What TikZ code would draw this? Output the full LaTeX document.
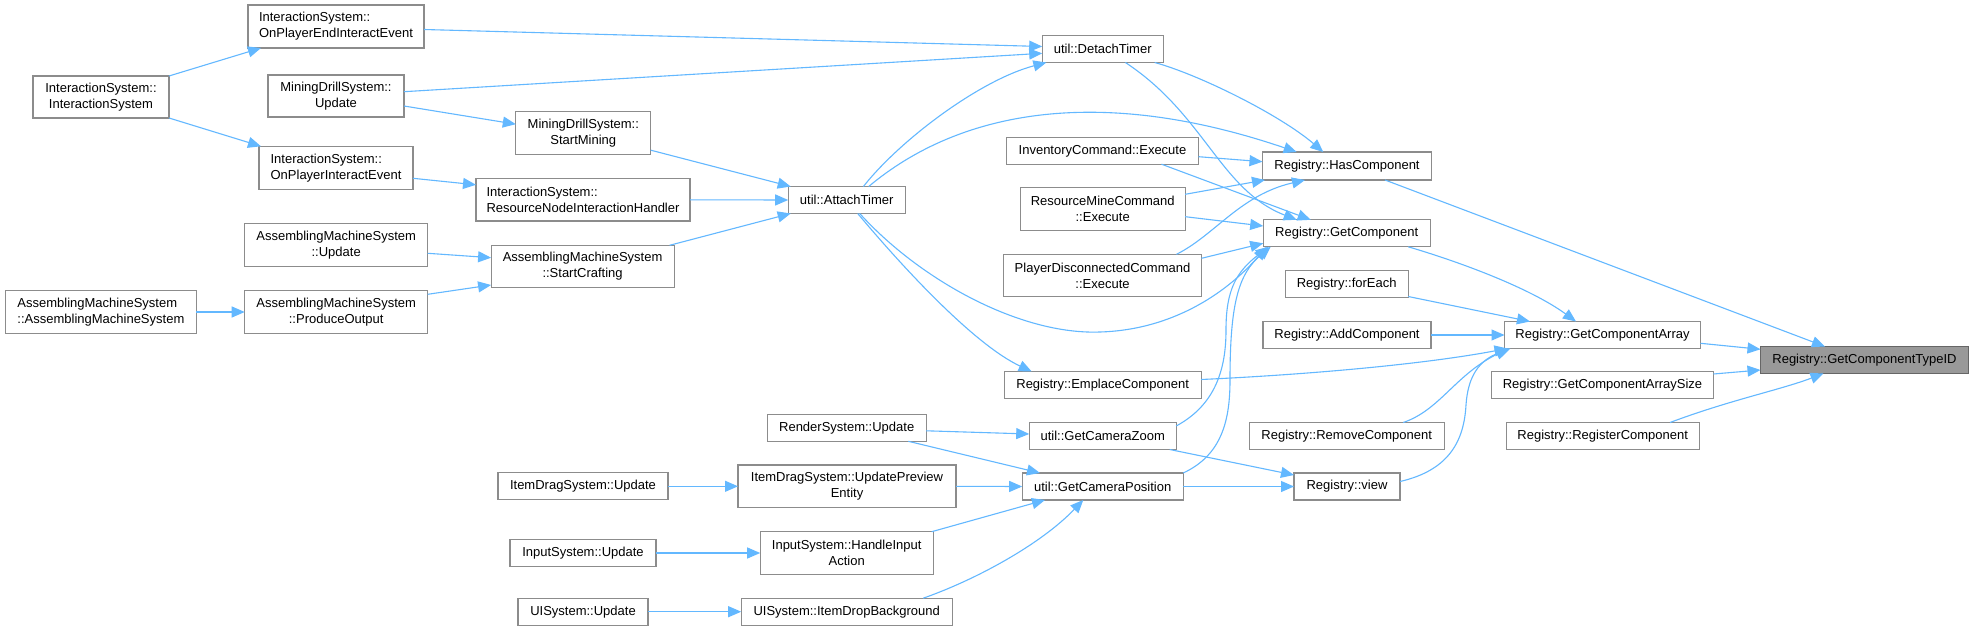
\documentclass[tikz,border=0pt]{standalone}
\usepackage{fontspec}
\setmainfont{Liberation Sans}
\usetikzlibrary{arrows.meta,calc}
\definecolor{edgec}{HTML}{63B8FF}
\definecolor{bordc}{HTML}{8C8C8C}
\definecolor{rootf}{HTML}{999999}
\definecolor{rootb}{HTML}{666666}
\begin{document}
\begin{tikzpicture}[x=0.5pt,y=-0.5pt,
  fn/.style={draw=bordc, line width=0.6pt, fill=white, inner sep=0pt, font=\fontsize{6.5}{8}\selectfont, align=center, text=black},
  fnl/.style={fn, align=left},
  root/.style={fn, fill=rootf, draw=rootb},
  edge/.style={draw=edgec, line width=0.55pt, -{Triangle[length=6.5pt,width=5.5pt]}}]

\useasboundingbox[fill=white] (0,0) rectangle (1977,631);

% column 1
\node[fn, minimum width=68pt, minimum height=21pt] (ISIS) at (101,97) {InteractionSystem::\\InteractionSystem};
\node[fnl, minimum width=95.5pt, minimum height=21.3pt] (AMAM) at (100.9,312) {AssemblingMachineSystem\\::AssemblingMachineSystem};
% column 2
\node[fnl, minimum width=88pt, minimum height=21.5pt] (OPEIE) at (336,26.5) {InteractionSystem::\\OnPlayerEndInteractEvent};
\node[fn, minimum width=68pt, minimum height=21pt] (MDU) at (336,96) {MiningDrillSystem::\\Update};
\node[fnl, minimum width=77pt, minimum height=21.5pt] (OPIE) at (336,167.8) {InteractionSystem::\\OnPlayerInteractEvent};
\node[fn, minimum width=91.5pt, minimum height=21.5pt] (AMU) at (336.2,245.3) {AssemblingMachineSystem\\::Update};
\node[fn, minimum width=91.5pt, minimum height=21.3pt] (AMPO) at (336.2,312) {AssemblingMachineSystem\\::ProduceOutput};
% column 3
\node[fn, minimum width=67.5pt, minimum height=21.5pt] (MDSM) at (583.3,133.2) {MiningDrillSystem::\\StartMining};
\node[fnl, minimum width=107pt, minimum height=21.2pt] (RNIH) at (583,199.8) {InteractionSystem::\\ResourceNodeInteractionHandler};
\node[fn, minimum width=91.5pt, minimum height=21.2pt] (AMSC) at (582.6,266.5) {AssemblingMachineSystem\\::StartCrafting};
\node[fn, minimum width=85pt, minimum height=13.5pt] (ITD) at (583,486.3) {ItemDragSystem::Update};
\node[fn, minimum width=73pt, minimum height=13.5pt] (ISU) at (583,553) {InputSystem::Update};
\node[fn, minimum width=65pt, minimum height=13.5pt] (UIU) at (583,611.7) {UISystem::Update};
% column 4
\node[fn, minimum width=58.5pt, minimum height=13.5pt] (AT) at (846.7,200) {util::AttachTimer};
\node[fn, minimum width=79.5pt, minimum height=13.5pt] (RS) at (846.7,427.8) {RenderSystem::Update};
\node[fn, minimum width=109pt, minimum height=21.3pt] (UPE) at (847,486.3) {ItemDragSystem::UpdatePreview\\Entity};
\node[fn, minimum width=86.5pt, minimum height=21.3pt] (HIA) at (846.7,553) {InputSystem::HandleInput\\Action};
\node[fn, minimum width=105.5pt, minimum height=13.5pt] (IDB) at (846.7,611.7) {UISystem::ItemDropBackground};
% column 5
\node[fn, minimum width=60.5pt, minimum height=13.5pt] (DT) at (1102.7,49) {util::DetachTimer};
\node[fn, minimum width=96pt, minimum height=13.5pt] (ICE) at (1102.5,150.7) {InventoryCommand::Execute};
\node[fn, minimum width=82.5pt, minimum height=21.3pt] (RMCE) at (1102.7,209) {ResourceMineCommand\\::Execute};
\node[fn, minimum width=99pt, minimum height=21.2pt] (PDCE) at (1102.5,275.5) {PlayerDisconnectedCommand\\::Execute};
\node[fn, minimum width=98.5pt, minimum height=13.5pt] (EC) at (1102.7,385) {Registry::EmplaceComponent};
\node[fn, minimum width=73.5pt, minimum height=13.5pt] (GCZ) at (1102.7,436) {util::GetCameraZoom};
\node[fn, minimum width=80.5pt, minimum height=13.5pt] (GCP) at (1102.7,486.5) {util::GetCameraPosition};
% column 6
\node[fn, minimum width=84.5pt, minimum height=14pt] (HC) at (1347,166) {Registry::HasComponent};
\node[fn, minimum width=83.5pt, minimum height=13.5pt] (GC) at (1346.7,233.3) {Registry::GetComponent};
\node[fn, minimum width=61.5pt, minimum height=13.5pt] (FE) at (1346.7,284) {Registry::forEach};
\node[fn, minimum width=84pt, minimum height=13.5pt] (AC) at (1347,335) {Registry::AddComponent};
\node[fn, minimum width=97.5pt, minimum height=13.5pt] (RMV) at (1346.7,436) {Registry::RemoveComponent};
\node[fn, minimum width=53pt, minimum height=13.5pt] (V) at (1347,486.5) {Registry::view};
% column 7
\node[fn, minimum width=98pt, minimum height=13.5pt] (GCA) at (1602.5,335) {Registry::GetComponentArray};
\node[fn, minimum width=111pt, minimum height=13.5pt] (GCAS) at (1602.5,385) {Registry::GetComponentArraySize};
\node[fn, minimum width=96.5pt, minimum height=13.5pt] (RC) at (1602.7,436) {Registry::RegisterComponent};
% column 8
\node[root, minimum width=104pt, minimum height=13.5pt] (GCTID) at (1864.5,360) {Registry::GetComponentTypeID};

% edges
\draw[edge] ($(ISIS)+(68,-21)$) -- ($(OPEIE)+(-75,21.5)$);
\draw[edge] ($(ISIS)+(68,21)$) -- ($(OPIE)+(-75,-21.5)$);
\draw[edge] ($(OPEIE)+(88,3)$) -- ($(DT)+(-60.5,-2.5)$);
\draw[edge] ($(MDU)+(68,-4.3)$) -- ($(DT)+(-60.5,4.3)$);
\draw[edge] ($(MDU)+(68,10)$) -- ($(MDSM)+(-67.5,-9)$);
\draw[edge] ($(MDSM)+(67.5,17)$) -- ($(AT)+(-56,-13.5)$);
\draw[edge] ($(OPIE)+(77,10.5)$) -- ($(RNIH)+(-107,-15)$);
\draw[edge] ($(RNIH)+(107,0)$) -- ($(AT)+(-58.5,0)$);
\draw[edge] ($(AMU)+(91.5,8)$) -- ($(AMSC)+(-91.5,-8.8)$);
\draw[edge] ($(AMPO)+(91.5,-17.7)$) -- ($(AMSC)+(-91.5,18.5)$);
\draw[edge] ($(AMAM)+(95.5,0)$) -- ($(AMPO)+(-91.5,0)$);
\draw[edge] ($(AMSC)+(87,-21.2)$) -- ($(AT)+(-56,13.5)$);

\draw[edge] ($(AT)+(16.7,-13.5)$) .. controls (900,140) and (980,80) .. ($(DT)+(-56.3,13.5)$);
\draw[edge] ($(AT)+(22,-13.5)$) .. controls (960,110) and (1100,85) .. ($(HC)+(-50.3,-14)$);
\draw[edge] ($(AT)+(13,13.5)$) .. controls (920,280) and (1020,335) .. (1100,332) .. controls (1170,330) and (1225,295) .. ($(GC)+(-80,13.5)$);
\draw[edge] ($(AT)+(11,13.5)$) .. controls (905,270) and (975,345) .. ($(EC)+(-71,-13.5)$);
\draw[edge] ($(DT)+(52,13.5)$) .. controls (1200,75) and (1280,115) .. ($(HC)+(-23.7,-14)$);
\draw[edge] ($(DT)+(22.7,13.5)$) .. controls (1205,115) and (1220,190) .. ($(GC)+(-50,-13.5)$);
\draw[edge] ($(ICE)+(96,6)$) -- ($(HC)+(-84.5,-4.3)$);
\draw[edge] ($(ICE)+(59,13.5)$) -- ($(GC)+(-36,-13.5)$);
\draw[edge] ($(RMCE)+(82.5,-14.7)$) -- ($(HC)+(-82,14)$);
\draw[edge] ($(RMCE)+(82.5,7.7)$) -- ($(GC)+(-83.5,-7.3)$);
\draw[edge] ($(PDCE)+(74,-21.2)$) .. controls (1215,235) and (1240,195) .. ($(HC)+(-42,14)$);
\draw[edge] ($(PDCE)+(99,-17.2)$) -- ($(GC)+(-83.5,10)$);
\draw[edge] ($(GCZ)+(73.5,-10)$) .. controls (1215,405) and (1226,370) .. (1226,330) .. controls (1226,290) and (1236,272) .. ($(GC)+(-78,13.5)$);
\draw[edge] ($(GCP)+(80.5,-13.5)$) .. controls (1222,455) and (1230,420) .. (1230,380) .. controls (1230,305) and (1238,274) .. ($(GC)+(-76,13.5)$);

\draw[edge] ($(HC)+(38,14)$) -- ($(GCTID)+(-39.5,-13.5)$);
\draw[edge] ($(GC)+(61.5,13.5)$) .. controls (1460,262) and (1530,288) .. ($(GCA)+(-26.5,-13.5)$);
\draw[edge] ($(FE)+(61.5,12.5)$) -- ($(GCA)+(-72.5,-13.5)$);
\draw[edge] ($(AC)+(84,0)$) -- ($(GCA)+(-98,0)$);
\draw[edge] ($(EC)+(98.5,-5.5)$) .. controls (1300,375) and (1420,365) .. ($(GCA)+(-95,13.5)$);
\draw[edge] ($(RMV)+(56.5,-13.5)$) .. controls (1440,410) and (1455,375) .. ($(GCA)+(-94,13.5)$);
\draw[edge] ($(V)+(53,-5)$) .. controls (1450,470) and (1464,440) .. (1466,405) .. controls (1468,375) and (1480,360) .. ($(GCA)+(-92,13.5)$);
\draw[edge] ($(GCA)+(98,8.3)$) -- ($(GCTID)+(-104,-10.7)$);
\draw[edge] ($(GCAS)+(111,-11)$) -- ($(GCTID)+(-104,10)$);
\draw[edge] ($(RC)+(67.3,-13.5)$) .. controls (1730,400) and (1780,390) .. ($(GCTID)+(-41,13.5)$);

\draw[edge] ($(RS)+(79.5,3)$) -- ($(GCZ)+(-73.5,-2)$);
\draw[edge] ($(RS)+(61.6,13.5)$) -- ($(GCP)+(-62.7,-13.5)$);
\draw[edge] ($(UPE)+(109,0)$) -- ($(GCP)+(-80.5,0)$);
\draw[edge] ($(HIA)+(85,-21.3)$) -- ($(GCP)+(-57.7,13.5)$);
\draw[edge] ($(IDB)+(76.5,-13.5)$) .. controls (975,580) and (1040,545) .. ($(GCP)+(-19.4,13.5)$);
\draw[edge] ($(ITD)+(85,0)$) -- ($(UPE)+(-109,0)$);
\draw[edge] ($(ISU)+(73,0)$) -- ($(HIA)+(-86.5,0)$);
\draw[edge] ($(UIU)+(65,0)$) -- ($(IDB)+(-105.5,0)$);
\draw[edge] ($(GCZ)+(67,13.5)$) -- ($(V)+(-53,-11.5)$);
\draw[edge] ($(GCP)+(80.5,0)$) -- ($(V)+(-53,0)$);
\end{tikzpicture}
\end{document}
